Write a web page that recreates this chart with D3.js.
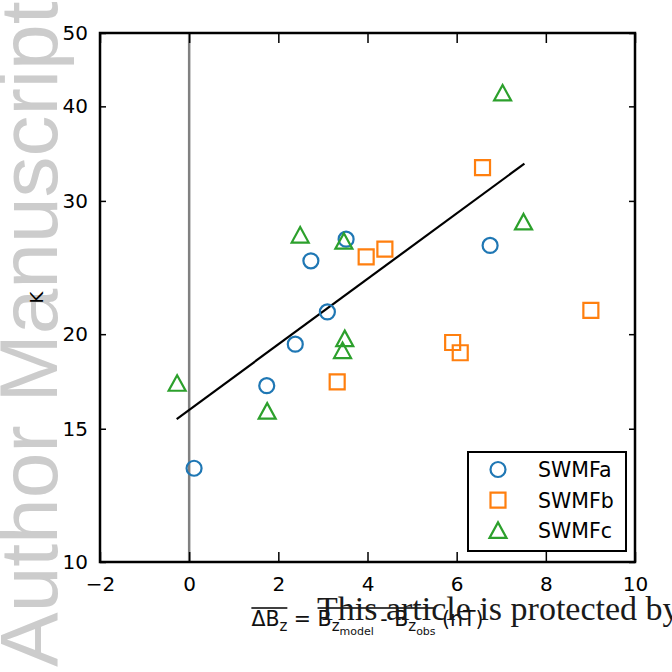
<!DOCTYPE html>
<html>
<head>
<meta charset="utf-8">
<script src="https://cdn.jsdelivr.net/npm/d3@7"></script>
<style>
  body { margin: 0; background: #fff; }
  svg { display: block; }
  .tick text { font-family: "DejaVu Sans", sans-serif; }
</style>
</head>
<body>
<script>
// data
var seriesNames = ["SWMFa", "SWMFb", "SWMFc"];
var seriesColors = ["#1f77b4", "#ff7f0e", "#2ca02c"];
var seriesShapes = ["circle", "square", "triangle"];

var swmfaX = [0.11, 1.74, 2.38, 2.73, 3.10, 3.52, 6.75];
var swmfaK = [13.3, 17.1, 19.4, 25.0, 21.4, 26.7, 26.2];
var swmfbX = [3.32, 3.97, 4.39, 6.58, 5.91, 6.08, 9.01];
var swmfbK = [17.3, 25.3, 25.9, 33.2, 19.5, 18.9, 21.5];
var swmfcX = [-0.27, 1.75, 2.49, 3.47, 3.49, 3.44, 7.03, 7.50];
var swmfcK = [17.2, 15.8, 27.0, 26.5, 19.7, 19.0, 41.6, 28.1];

// fitted line end points
var fitX = [-0.28, 7.52];
var fitK = [15.45, 33.6];

var xTicks = [-2, 0, 2, 4, 6, 8, 10];
var yTicks = [10, 15, 20, 30, 40, 50];

var w = 672, h = 672;
var pLeft = 100, pRight = 635, pTop = 33, pBottom = 562;

var svg = d3.select("body").append("svg").attr("width", w).attr("height", h);

// side watermark sits under everything
svg.append("text")
    .attr("transform", "translate(57,667) rotate(-90)")
    .attr("font-family", "Liberation Sans").attr("font-size", 82)
    .attr("fill", "#cccccc")
    .text("Author Manuscript");

var x = d3.scaleLinear().domain([-2, 10]).range([pLeft, pRight]);
var y = d3.scaleLog().domain([10, 50]).range([pBottom, pTop]);

// vertical line at zero
svg.append("line")
    .attr("x1", x(0)).attr("x2", x(0))
    .attr("y1", pTop).attr("y2", pBottom)
    .attr("stroke", "#808080").attr("stroke-width", 2.5);

// axes, ticks pointing inward on all four sides
var fmt = d3.format("d");
svg.append("g").attr("transform", "translate(0," + pBottom + ")")
    .call(d3.axisBottom(x).tickValues(xTicks).tickSizeInner(-10).tickSizeOuter(0).tickPadding(15).tickFormat(fmt));
svg.append("g").attr("transform", "translate(0," + pTop + ")")
    .call(d3.axisTop(x).tickValues(xTicks).tickSizeInner(-10).tickSizeOuter(0).tickFormat(""));
svg.append("g").attr("transform", "translate(" + pLeft + ",0)")
    .call(d3.axisLeft(y).tickValues(yTicks).tickSizeInner(-6).tickSizeOuter(0).tickPadding(12).tickFormat(fmt));
svg.append("g").attr("transform", "translate(" + pRight + ",0)")
    .call(d3.axisRight(y).tickValues(yTicks).tickSizeInner(-6).tickSizeOuter(0).tickFormat(""));

svg.selectAll(".domain").remove();
svg.selectAll(".tick line").attr("stroke", "#000").attr("stroke-width", 1.5);
svg.selectAll(".tick text").attr("font-size", 20).attr("fill", "#000");

// frame
svg.append("rect")
    .attr("x", pLeft).attr("y", pTop)
    .attr("width", pRight - pLeft).attr("height", pBottom - pTop)
    .attr("fill", "none").attr("stroke", "#000").attr("stroke-width", 2.5);

// fit line
var line = d3.line().x(d => x(d[0])).y(d => y(d[1]));
svg.append("path")
    .attr("d", line(d3.zip(fitX, fitK)))
    .attr("fill", "none").attr("stroke", "#000").attr("stroke-width", 2.2);

// markers
function markerPath(shape) {
    if (shape == "circle") return d3.symbol().type(d3.symbolCircle).size(Math.PI * 7.5 * 7.5)();
    if (shape == "square") return "M-7.5,-7.5H7.5V7.5H-7.5Z";
    return "M0,-8.5L8.5,7L-8.5,7Z";
}

var series = [
    { xs: swmfaX, ks: swmfaK },
    { xs: swmfbX, ks: swmfbK },
    { xs: swmfcX, ks: swmfcK }
];

series.forEach(function (s, i) {
    svg.selectAll(".pt" + i).data(d3.zip(s.xs, s.ks))
        .enter().append("path").attr("class", "pt" + i)
        .attr("d", markerPath(seriesShapes[i]))
        .attr("fill", "none")
        .attr("stroke", seriesColors[i])
        .attr("stroke-width", 2.2)
        .attr("transform", d => "translate(" + x(d[0]) + "," + y(d[1]) + ")");
});

// legend
var lg = svg.append("g");
lg.append("rect")
    .attr("x", 468).attr("y", 452).attr("width", 158).attr("height", 99)
    .attr("fill", "#fff").attr("stroke", "#000").attr("stroke-width", 2);
seriesNames.forEach(function (name, i) {
    var yy = 469.5 + i * 30.7;
    lg.append("path")
        .attr("d", markerPath(seriesShapes[i]))
        .attr("fill", "none").attr("stroke", seriesColors[i]).attr("stroke-width", 2.2)
        .attr("transform", "translate(498," + yy + ")");
    lg.append("text")
        .attr("x", 538).attr("y", yy + 7.5)
        .attr("font-family", "DejaVu Sans").attr("font-size", 20.5)
        .text(name);
});

// y label
svg.append("text")
    .attr("transform", "translate(43," + ((pTop + pBottom) / 2) + ") rotate(-90)")
    .attr("text-anchor", "middle")
    .attr("font-family", "DejaVu Sans").attr("font-size", 18)
    .text("K");

// x label with overlines
var xl = svg.append("text")
    .attr("x", (pLeft + pRight) / 2).attr("y", 626)
    .attr("text-anchor", "middle")
    .attr("font-family", "DejaVu Sans").attr("font-size", 20.5).attr("fill", "#111");
xl.append("tspan").text("ΔB");
xl.append("tspan").attr("dy", 5).attr("font-size", 15).text("z");
xl.append("tspan").attr("dy", -5).text(" = B");
xl.append("tspan").attr("dy", 5).attr("font-size", 15).text("z");
xl.append("tspan").attr("dy", 4).attr("font-size", 11).text("model");
xl.append("tspan").attr("dy", -9).text(" - B");
xl.append("tspan").attr("dy", 5).attr("font-size", 15).text("z");
xl.append("tspan").attr("dy", 4).attr("font-size", 11).text("obs");
xl.append("tspan").attr("dy", -9).text(" (nT)");

var node = xl.node();
function charX0(i) { return node.getStartPositionOfChar(i).x; }
function charX1(i) { return node.getEndPositionOfChar(i).x; }
svg.append("line").attr("x1", charX0(0)).attr("x2", charX1(2))
    .attr("y1", 608).attr("y2", 608).attr("stroke", "#000").attr("stroke-width", 1.5);
svg.append("line").attr("x1", charX0(6)).attr("x2", charX1(20))
    .attr("y1", 608).attr("y2", 608).attr("stroke", "#000").attr("stroke-width", 1.5);

// bottom watermark over the label
svg.append("text")
    .attr("x", 317).attr("y", 620)
    .attr("font-family", "Liberation Serif").attr("font-size", 34)
    .attr("fill", "#1a1a1a")
    .text("This article is protected by");
</script>
</body>
</html>
